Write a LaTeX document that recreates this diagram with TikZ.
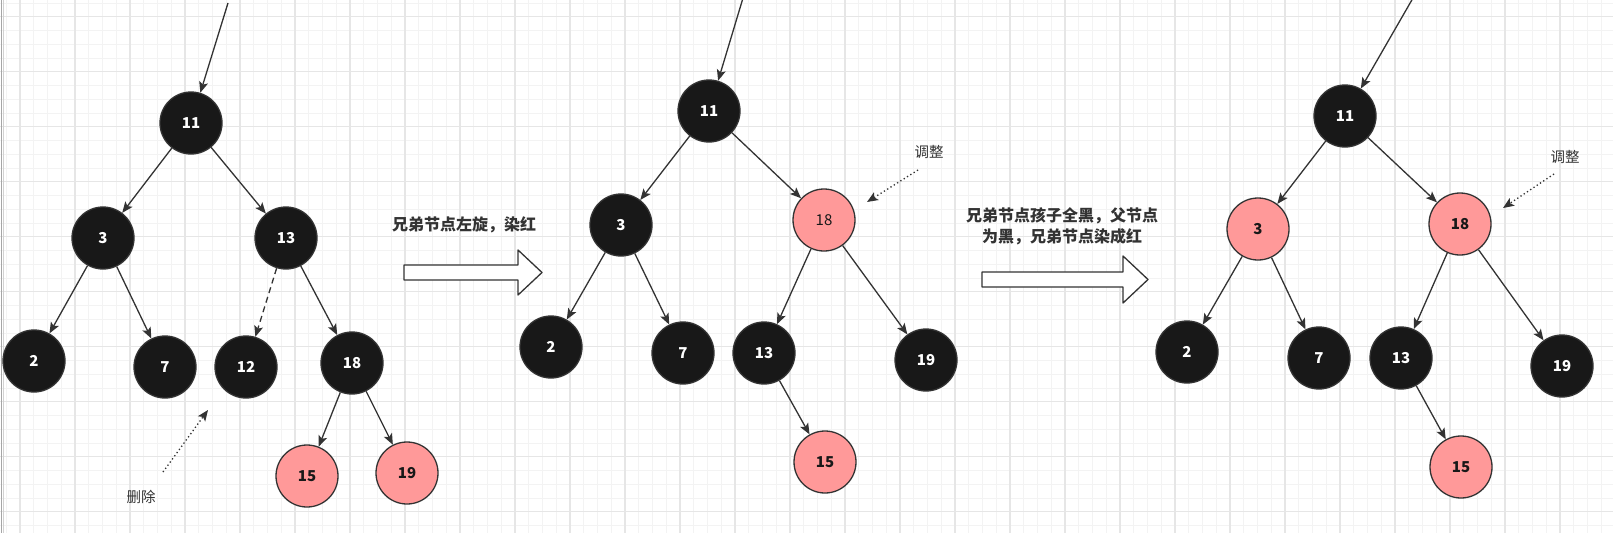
\documentclass[tikz,border=0pt]{standalone}
\usepackage{fontspec}
\setmainfont{Noto Sans CJK SC}
\usetikzlibrary{arrows.meta}
\definecolor{ink}{HTML}{333333}
\definecolor{coal}{HTML}{181818}
\definecolor{rose}{HTML}{FF9999}
\definecolor{gridlo}{HTML}{F3F3F3}
\definecolor{gridhi}{HTML}{E6E6E6}

\begin{document}
\begin{tikzpicture}[
  x=1pt, y=-1pt,
  font=\bfseries\fontsize{15}{17}\selectfont,
  line cap=butt,
  line join=round,
  >={Stealth[length=11pt,width=9pt,inset=2.5pt]},
  every node/.style={
    align=center,
    text=ink,
  },
  bnode/.style={
    circle,
    draw=ink,
    line width=1.3pt,
    fill=coal,
    text=white,
    minimum size=62pt,
    inner sep=0pt,
  },
  rnode/.style={
    bnode,
    fill=rose,
    text=coal,
  },
  edge/.style={
    ->,
    ink,
    line width=1.3pt,
  },
  dashedge/.style={
    edge,
    dash pattern=on 6pt off 4pt,
  },
  note/.style={
    edge,
    line width=1.3pt,
    dash pattern=on 1.3pt off 2.6pt,
  },
  tag/.style={
    font=\fontsize{14.5}{16}\selectfont,
    text=ink,
  },
  step label/.style={
    font=\bfseries\fontsize{16}{21}\selectfont,
    text=ink,
  },
  blockarrow/.style={
    draw=ink,
    fill=white,
    line width=1.3pt,
  },
]

\useasboundingbox (0,0) rectangle (1613,533);

% --- grid ---
\fill[white] (0,0) rectangle (1613,533);
\foreach \i in {0,...,117}
  \draw[gridlo, line width=0.9pt] ({6.25+13.75*\i},0) -- ++(0,533);
\foreach \i in {0,...,38}
  \draw[gridlo, line width=0.9pt] (0,{2.95+13.75*\i}) -- ++(1613,0);
\foreach \i in {0,...,29}
  \draw[gridhi, line width=1.4pt] ({20+55*\i},0) -- ++(0,533);
\foreach \i in {0,...,9}
  \draw[gridhi, line width=1.4pt] (0,{16.7+55*\i}) -- ++(1613,0);
\draw[gray!70, line width=1pt] (1.5,0) -- (1.5,533);
\draw[gray!35, line width=1pt] (3.5,0) -- (3.5,533);

% --- tree 1: before ---
\node[bnode] (a11) at (191,123) {11};
\node[bnode] (a3)  at (103,238) {3};
\node[bnode] (a13) at (286,238) {13};
\node[bnode] (a2)  at (34,361)  {2};
\node[bnode] (a7)  at (165,367) {7};
\node[bnode] (a12) at (246,367) {12};
\node[bnode] (a18) at (352,363) {18};
\node[rnode] (a15) at (307,476) {15};
\node[rnode] (a19) at (407,473) {19};
\coordinate (atop) at (228,3);

\draw[edge] (atop) -- (a11);
\draw[edge] (a11) -- (a3);
\draw[edge] (a11) -- (a13);
\draw[edge] (a3) -- (a2);
\draw[edge] (a3) -- (a7);
\draw[dashedge] (a13) -- (a12);
\draw[edge] (a13) -- (a18);
\draw[edge] (a18) -- (a15);
\draw[edge] (a18) -- (a19);

\node[tag] (del) at (141,497) {删除};
\coordinate (delfrom) at (163,472);
\coordinate (delto) at (208,410);
\draw[note] (delfrom) -- (delto);

% --- step 1 ---
\node[step label] (s1) at (464,225) {兄弟节点左旋，染红};
\draw[blockarrow] (404,265) -- (518,265) -- (518,250) -- (542,272.5)
  -- (518,295) -- (518,280) -- (404,280) -- cycle;

% --- tree 2: after rotation ---
\node[bnode] (b11) at (709,111) {11};
\node[bnode] (b3)  at (621,225) {3};
\node[rnode, font=\fontsize{15}{17}\selectfont] (b18) at (824,220) {18};
\node[bnode] (b2)  at (551,347) {2};
\node[bnode] (b7)  at (683,353) {7};
\node[bnode] (b13) at (764,353) {13};
\node[bnode] (b19) at (926,360) {19};
\node[rnode] (b15) at (825,462) {15};
\coordinate (btop) at (743,-2);

\draw[edge] (btop) -- (b11);
\draw[edge] (b11) -- (b3);
\draw[edge] (b11) -- (b18);
\draw[edge] (b3) -- (b2);
\draw[edge] (b3) -- (b7);
\draw[edge] (b18) -- (b13);
\draw[edge] (b18) -- (b19);
\draw[edge] (b13) -- (b15);

\node[tag] (fixb) at (929,152) {调整};
\coordinate (fixbfrom) at (918,170);
\coordinate (fixbto) at (867,202);
\draw[note] (fixbfrom) -- (fixbto);

% --- step 2 ---
\node[step label] (s2) at (1062,226) {兄弟节点孩子全黑，父节点\\为黑，兄弟节点染成红};
\draw[blockarrow] (982,272) -- (1123,272) -- (1123,256) -- (1148,279.5)
  -- (1123,303) -- (1123,287) -- (982,287) -- cycle;

% --- tree 3: after recolour ---
\node[bnode] (c11) at (1345,116) {11};
\node[rnode] (c3)  at (1258,229) {3};
\node[rnode] (c18) at (1460,224) {18};
\node[bnode] (c2)  at (1187,352) {2};
\node[bnode] (c7)  at (1319,358) {7};
\node[bnode] (c13) at (1401,358) {13};
\node[bnode] (c19) at (1562,366) {19};
\node[rnode] (c15) at (1461,467) {15};
\coordinate (ctop) at (1413,-2);

\draw[edge] (ctop) -- (c11);
\draw[edge] (c11) -- (c3);
\draw[edge] (c11) -- (c18);
\draw[edge] (c3) -- (c2);
\draw[edge] (c3) -- (c7);
\draw[edge] (c18) -- (c13);
\draw[edge] (c18) -- (c19);
\draw[edge] (c13) -- (c15);

\node[tag] (fixc) at (1565,157) {调整};
\coordinate (fixcfrom) at (1554,174);
\coordinate (fixcto) at (1503,208);
\draw[note] (fixcfrom) -- (fixcto);

\end{tikzpicture}
\end{document}
